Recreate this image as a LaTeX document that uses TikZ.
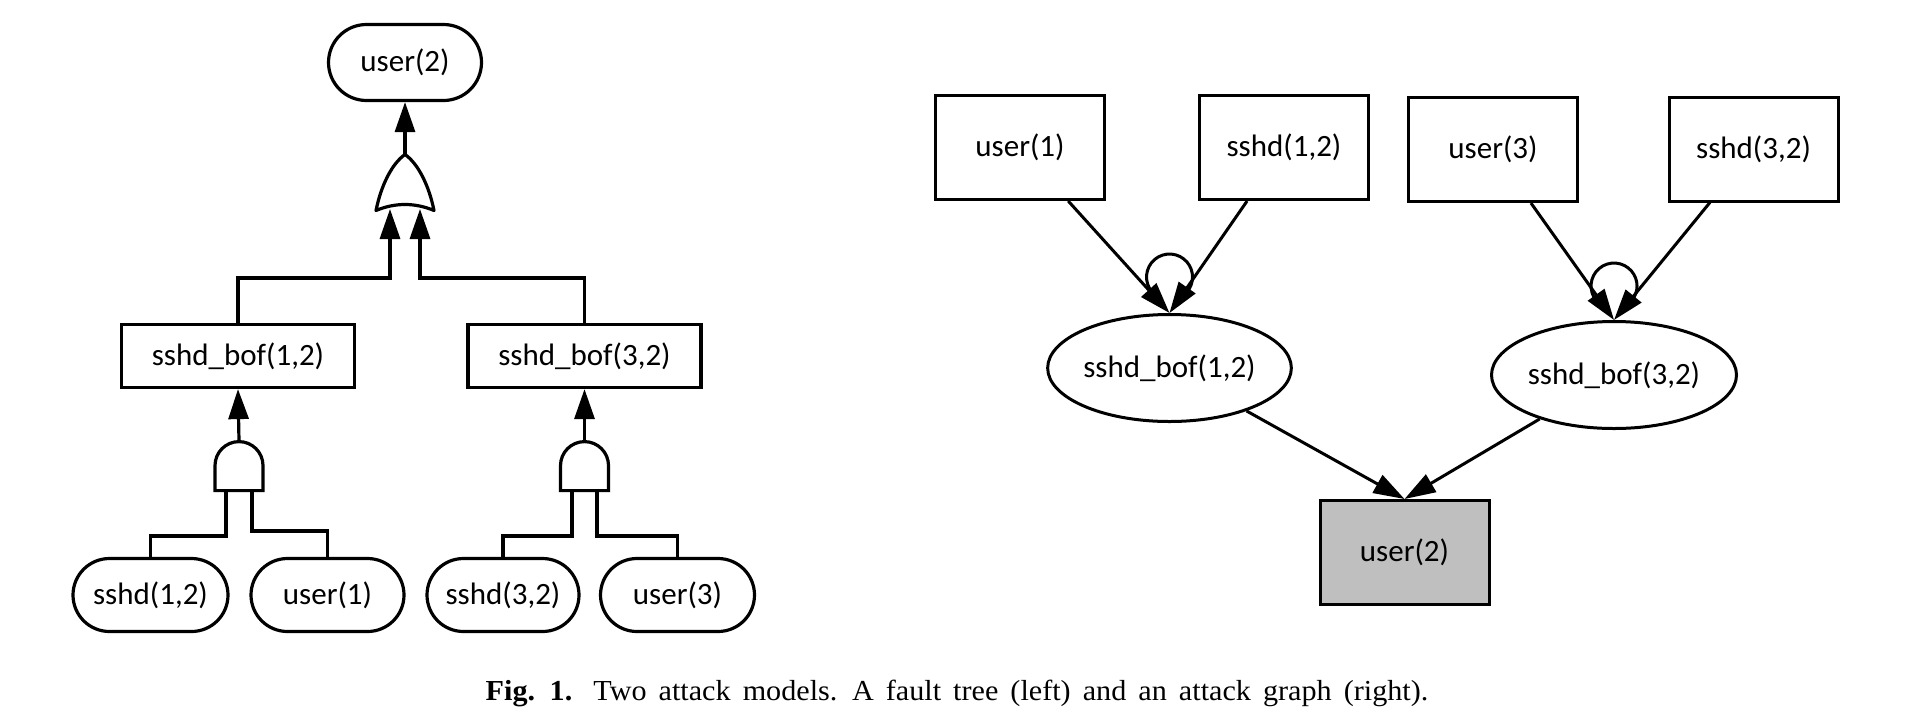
\documentclass[tikz,border=0pt]{standalone}
\usepackage{fontspec}
\setmainfont{Carlito}
\newfontfamily\capfont[WordSpace=1.6]{Liberation Serif}
\usetikzlibrary{arrows.meta,shapes.geometric}
\begin{document}
\begin{tikzpicture}[x=1pt,y=1pt,
  lbl/.style={font=\fontsize{31}{37}\selectfont},
  ft/.style={lbl, draw, line width=3.2pt, fill=white, inner sep=0pt},
  evt/.style={ft, rounded corners=36.5pt, minimum height=73pt},
  bofbox/.style={ft, minimum width=233pt, minimum height=63pt},
  ftline/.style={line width=3.2pt},
  ftarr/.style={ftline, -{Triangle[length=30pt,width=20pt]}},
  ag/.style={lbl, draw, line width=3pt, inner sep=0pt},
  agbox/.style={ag, minimum width=169pt, minimum height=104pt},
  agell/.style={ag, ellipse, minimum height=107pt},
  agline/.style={line width=3pt},
  agarr/.style={agline, -{Triangle[length=31pt,width=20pt]}},
  orgate/.pic={\draw[ftline, fill=white, line join=round]
      (0,0) .. controls (13,-9) and (24,-31) .. (29,-56)
      .. controls (10,-48) and (-10,-48) .. (-29,-56)
      .. controls (-24,-31) and (-13,-9) .. (0,0) -- cycle;},
  andgate/.pic={\draw[ftline, fill=white]
      (-24,-49) -- (-24,-24) arc[start angle=180,end angle=0,radius=24]
      -- (24,-49) -- cycle;},
]
\useasboundingbox (0,0) rectangle (1905,-726);

% ---------------- fault tree ----------------
\node[evt, minimum width=153pt, minimum height=76pt, rounded corners=38pt] (top) at (405,-62.5) {user(2)};
\node[bofbox] (bofA) at (238,-356) {sshd\_bof(1,2)};
\node[bofbox] (bofB) at (584.5,-356) {sshd\_bof(3,2)};
\node[evt, minimum width=155pt] (sA) at (150.5,-595) {sshd(1,2)};
\node[evt, minimum width=153pt] (uA) at (327.5,-595) {user(1)};
\node[evt, minimum width=152pt] (sB) at (503,-595) {sshd(3,2)};
\node[evt, minimum width=154pt] (uB) at (677.5,-595) {user(3)};

\pic at (405,-154.5) {orgate};
\pic at (239,-441.6) {andgate};
\pic at (584.5,-441.6) {andgate};

\coordinate (orOut) at (405,-154);
\coordinate (orIn1) at (390,-209);
\coordinate (orIn2) at (420,-209);
\coordinate (andAout) at (239,-441);
\coordinate (andAin1) at (226,-490.6);
\coordinate (andAin2) at (252,-490.6);
\coordinate (andBout) at (584.5,-441);
\coordinate (andBin1) at (572,-490.6);
\coordinate (andBin2) at (597,-490.6);

\draw[ftarr] (orOut) -- (top.south);
\draw[ftarr] (bofA.north) -- ++(0,45) -| (orIn1);
\draw[ftarr] (bofB.north) -- ++(0,45) -| (orIn2);
\draw[ftarr] (andAout) -- (bofA.south);
\draw[ftarr] (andBout) -- (bofB.south);
\draw[ftline] (sA.north) -- ++(0,21) -| (andAin1);
\draw[ftline] (uA.north) -- ++(0,26) -| (andAin2);
\draw[ftline] (sB.north) -- ++(0,21) -| (andBin1);
\draw[ftline] (uB.north) -- ++(0,21) -| (andBin2);

% ---------------- attack graph ----------------
\node[agbox] (gu1) at (1020,-147.5) {user(1)};
\node[agbox] (gs12) at (1284,-147.5) {sshd(1,2)};
\node[agbox] (gu3) at (1493,-149.5) {user(3)};
\node[agbox] (gs32) at (1753.5,-149) {sshd(3,2)};
\node[agell, minimum width=234pt] (gb1) at (1169.5,-368) {sshd\_bof(1,2)};
\node[agell, minimum width=245pt] (gb2) at (1614,-375) {sshd\_bof(3,2)};
\node[agbox, fill=black!25] (gu2) at (1404.5,-552.5) {user(2)};

\draw[agline] ([shift={(-17.6,21.2)}]gb1.north) arc[start angle=220,end angle=-40,radius=23];
\draw[agline] ([shift={(-17.6,19.2)}]gb2.north) arc[start angle=220,end angle=-40,radius=23];
\draw[agarr] (gu1) -- (gb1.north);
\draw[agarr] (gs12) -- (gb1.north);
\draw[agarr] (gu3) -- (gb2.north);
\draw[agarr] (gs32) -- (gb2.north);
\draw[agarr] (gb1) -- (gu2.north);
\draw[agarr] (gb2) -- (gu2.north);

% ---------------- caption ----------------
\node[anchor=base, inner sep=0pt, font=\capfont\fontsize{29}{34}\selectfont] (cap) at (957,-700)
  {\scalebox{1.04}[1]{\textbf{Fig. 1.}\hspace{0.7em}Two attack models. A fault tree (left) and an attack graph (right).}};
\end{tikzpicture}
\end{document}
